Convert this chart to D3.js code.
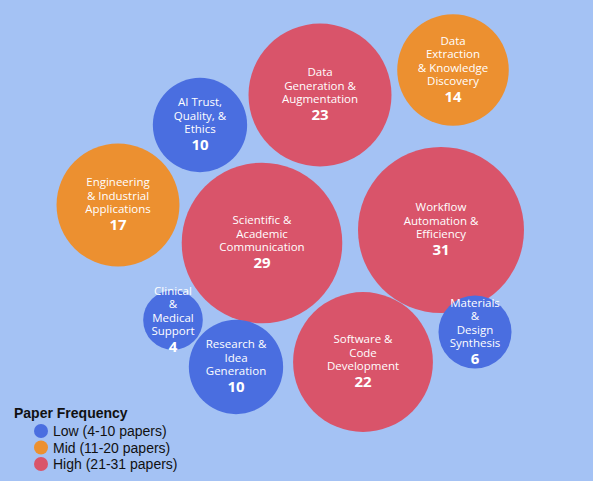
<!DOCTYPE html>
<html><head><meta charset="utf-8">
<script src="https://cdn.jsdelivr.net/npm/d3@7"></script>
<style>body{margin:0;background:#a4c2f4}</style>
</head><body><svg id="chart" width="593" height="481"></svg>
<script>
// topic labels, paper counts and bubble centres (layout)
const topics = [
  ["Data", "Generation &", "Augmentation"],
  ["Data", "Extraction", "& Knowledge", "Discovery"],
  ["AI Trust,", "Quality, &", "Ethics"],
  ["Engineering", "& Industrial", "Applications"],
  ["Scientific &", "Academic", "Communication"],
  ["Workflow", "Automation &", "Efficiency"],
  ["Clinical", "&", "Medical", "Support"],
  ["Research &", "Idea", "Generation"],
  ["Software &", "Code", "Development"],
  ["Materials", "&", "Design", "Synthesis"]
];
const counts = [23, 14, 10, 17, 29, 31, 4, 10, 22, 6];
const cx = [320, 453, 200, 118, 262, 441, 173, 236, 363, 475];
const cy = [95, 70, 125, 205, 243, 230, 320, 367, 362, 332];
const legendLabels = ["Low (4-10 papers)", "Mid (11-20 papers)", "High (21-31 papers)"];
const colors = ["#4a6ee0", "#ec9030", "#d9546a"];

const svg = d3.select("#chart");
const r = d3.scaleSqrt().domain([0, 31]).range([0, 83]);
const tier = c => c <= 10 ? 0 : c <= 20 ? 1 : 2;

const g = svg.selectAll("g.bubble").data(counts).enter().append("g")
  .attr("transform", (d, i) => `translate(${cx[i]},${cy[i]})`);
g.append("circle").attr("r", d => r(d)).attr("fill", d => colors[tier(d)]);
g.each(function(d, i) {
  const lines = topics[i];
  const lh = 13.5;
  const total = lines.length * lh + 17;
  const t = d3.select(this).append("text").attr("text-anchor", "middle")
    .attr("fill", "white").attr("font-family", "Open Sans, sans-serif");
  lines.forEach((l, k) => {
    t.append("tspan").attr("x", 0).attr("y", -total / 2 + 10 + k * lh)
      .attr("font-size", 11.5).text(l);
  });
  t.append("tspan").attr("x", 0).attr("y", -total / 2 + 10 + lines.length * lh + 3)
    .attr("font-size", 15).attr("font-weight", "bold").text(d);
});

const lg = svg.append("g").attr("font-family", "Liberation Sans, Arial, sans-serif");
lg.append("text").attr("x", 14).attr("y", 418).attr("font-size", 14)
  .attr("font-weight", "bold").attr("fill", "#111").text("Paper Frequency");
legendLabels.forEach((l, i) => {
  lg.append("circle").attr("cx", 41).attr("cy", 431 + i * 16.5).attr("r", 7).attr("fill", colors[i]);
  lg.append("text").attr("x", 53).attr("y", 436 + i * 16.5).attr("font-size", 14)
    .attr("fill", "#111").text(l);
});
</script></body></html>
